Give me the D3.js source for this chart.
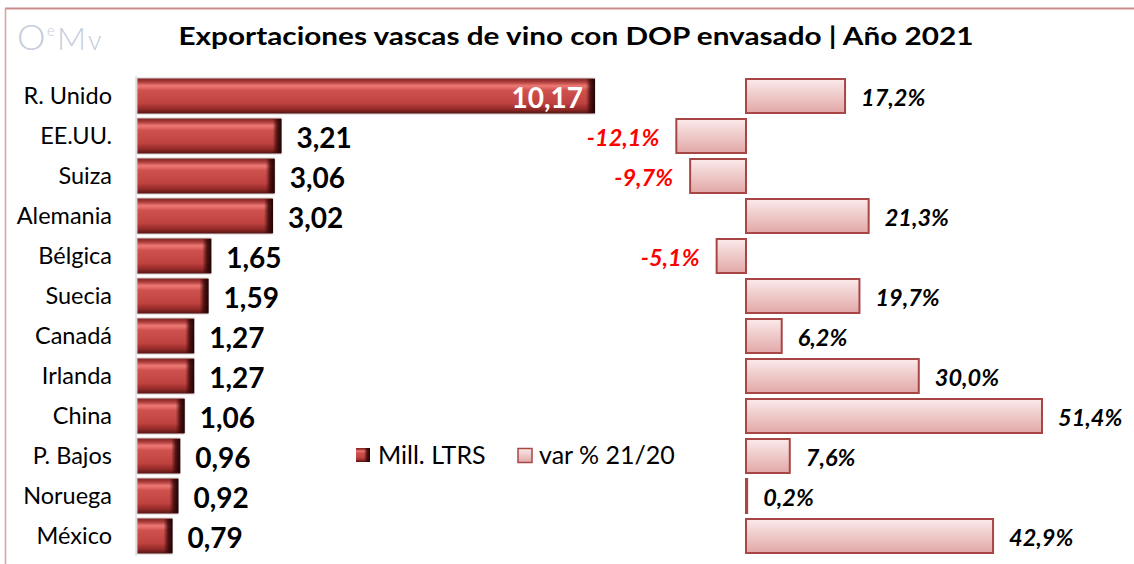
<!DOCTYPE html>
<html>
<head>
<meta charset="utf-8">
<script src="https://cdn.jsdelivr.net/npm/d3@7"></script>
<style>
  body { margin: 0; background: #fff; }
  svg { display: block; font-family: Lato, "Open Sans", sans-serif; }
</style>
</head>
<body>
<svg id="chart"></svg>
<script>
// data
const paises = ["R. Unido", "EE.UU.", "Suiza", "Alemania", "Bélgica", "Suecia",
                "Canadá", "Irlanda", "China", "P. Bajos", "Noruega", "México"];
const millLitros = [10.17, 3.21, 3.06, 3.02, 1.65, 1.59, 1.27, 1.27, 1.06, 0.96, 0.92, 0.79];
const variacion = [17.2, -12.1, -9.7, 21.3, -5.1, 19.7, 6.2, 30.0, 51.4, 7.6, 0.2, 42.9];
const serieNombres = ["Mill. LTRS", "var % 21/20"];
const titulo = "Exportaciones vascas de vino con DOP envasado | Año 2021";

const width = 1134, height = 564;
const fmt = (v, d) => v.toFixed(d).replace(".", ",");

const svg = d3.select("#chart").attr("width", width).attr("height", height);

// gradients
const defs = svg.append("defs");
const gBar = defs.append("linearGradient").attr("id", "gBar")
    .attr("x1", 0).attr("y1", 0).attr("x2", 0).attr("y2", 1);
[[0, "#7a2222"], [0.1, "#a83a38"], [0.22, "#ef7a76"], [0.34, "#d0524f"],
 [0.7, "#bf4240"], [0.88, "#8e2826"], [1, "#4a1010"]].forEach(([o, c]) =>
    gBar.append("stop").attr("offset", o).attr("stop-color", c));
const gEdge = defs.append("linearGradient").attr("id", "gEdge")
    .attr("x1", 0).attr("y1", 0).attr("x2", 1).attr("y2", 0);
gEdge.append("stop").attr("offset", 0).attr("stop-color", "#3a0808").attr("stop-opacity", 0);
gEdge.append("stop").attr("offset", 0.5).attr("stop-color", "#3a0808").attr("stop-opacity", 0.85);
gEdge.append("stop").attr("offset", 1).attr("stop-color", "#1e0303").attr("stop-opacity", 1);
const gPink = defs.append("linearGradient").attr("id", "gPink")
    .attr("x1", 0).attr("y1", 0).attr("x2", 0).attr("y2", 1);
gPink.append("stop").attr("offset", 0).attr("stop-color", "#fbeaea");
gPink.append("stop").attr("offset", 1).attr("stop-color", "#e2a7a7");

// frame
svg.append("line").attr("x1", 5).attr("x2", width).attr("y1", 8.5).attr("y2", 8.5)
    .attr("stroke", "#c98a8a").attr("stroke-width", 2);
svg.append("line").attr("x1", 5.5).attr("x2", 5.5).attr("y1", 8).attr("y2", height)
    .attr("stroke", "#d9a0a0").attr("stroke-width", 1.5);

// logo (light grey-blue "OeMv")
const logo = svg.append("g").attr("fill", "#c5ccda").attr("font-weight", 300);
logo.append("text").attr("x", 17).attr("y", 50).attr("font-size", 36).text("O");
logo.append("text").attr("x", 47).attr("y", 36).attr("font-size", 15).text("e");
logo.append("text").attr("x", 57).attr("y", 50).attr("font-size", 32).text("M");
logo.append("text").attr("x", 88).attr("y", 50).attr("font-size", 27).text("v");

// title
svg.append("text").attr("x", 576).attr("y", 45).attr("text-anchor", "middle")
    .attr("font-size", 24).attr("font-weight", "bold").attr("fill", "#000")
    .attr("textLength", 795).attr("lengthAdjust", "spacingAndGlyphs")
    .text(titulo);

// scales
const y = d3.scaleBand().domain(paises).range([76, 556]).paddingInner(0.1).paddingOuter(0.05);
const xL = d3.scaleLinear().domain([0, 10.17]).range([137, 595]);
const xR = d3.scaleLinear().domain([0, 51.4]).range([746, 1042]);

// category axis
const yAxis = svg.append("g").attr("transform", `translate(${xL(0) - 1},0)`)
    .call(d3.axisLeft(y).tickSize(0).tickPadding(24));
yAxis.select(".domain").attr("stroke", "#cfcfcf").attr("d", `M0,${y.range()[0]}V${y.range()[1]}`);
yAxis.selectAll("text").attr("font-size", 23.5).attr("fill", "#000")
    .attr("font-family", "Lato, sans-serif");

// left bars
const lb = svg.append("g").selectAll("g").data(paises).join("g");
lb.append("rect")
    .attr("x", xL(0)).attr("y", d => y(d))
    .attr("width", (d, i) => xL(millLitros[i]) - xL(0))
    .attr("height", y.bandwidth())
    .attr("fill", "url(#gBar)").attr("stroke", "#d8d0d0").attr("stroke-width", 1);
lb.append("rect")
    .attr("x", (d, i) => xL(millLitros[i]) - 9).attr("y", d => y(d) + 1)
    .attr("width", 9).attr("height", y.bandwidth() - 2)
    .attr("fill", "url(#gEdge)");

const maxV = d3.max(millLitros);
lb.append("text")
    .attr("x", (d, i) => millLitros[i] === maxV ? xL(millLitros[i]) - 12 : xL(millLitros[i]) + 15)
    .attr("y", d => y(d) + y.bandwidth() / 2 + 2)
    .attr("dy", "0.36em")
    .attr("text-anchor", (d, i) => millLitros[i] === maxV ? "end" : "start")
    .attr("font-size", 28)
    .attr("font-weight", "bold")
    .attr("fill", (d, i) => millLitros[i] === maxV ? "#fff" : "#000")
    .text((d, i) => fmt(millLitros[i], 2));

// right bars
const rb = svg.append("g").selectAll("g").data(paises).join("g");
rb.append("rect")
    .attr("x", (d, i) => Math.min(xR(0), xR(variacion[i])))
    .attr("y", d => y(d) + 1)
    .attr("width", (d, i) => Math.abs(xR(variacion[i]) - xR(0)))
    .attr("height", y.bandwidth() - 2)
    .attr("fill", "url(#gPink)").attr("stroke", "#a84646").attr("stroke-width", 2);
rb.append("text")
    .attr("x", (d, i) => variacion[i] < 0 ? xR(variacion[i]) - 17 : xR(variacion[i]) + 16)
    .attr("y", d => y(d) + y.bandwidth() / 2 + 2)
    .attr("dy", "0.36em")
    .attr("text-anchor", (d, i) => variacion[i] < 0 ? "end" : "start")
    .attr("font-size", 23.5).attr("font-weight", "bold").attr("font-style", "italic")
    .attr("fill", (d, i) => variacion[i] < 0 ? "#ff0000" : "#000")
    .text((d, i) => fmt(variacion[i], 1) + "%");

// legend
const lg = svg.append("g").attr("transform", "translate(356,448)");
lg.append("rect").attr("width", 14).attr("height", 14).attr("fill", "url(#gBar)");
lg.append("rect").attr("x", 8).attr("width", 6).attr("height", 14).attr("fill", "url(#gEdge)");
lg.append("text").attr("x", 22).attr("y", 7).attr("dy", "0.36em")
    .attr("font-size", 25).attr("fill", "#000").text(serieNombres[0]);
lg.append("rect").attr("x", 162).attr("y", 0.5).attr("width", 14).attr("height", 14)
    .attr("fill", "url(#gPink)").attr("stroke", "#a84646").attr("stroke-width", 1.5);
lg.append("text").attr("x", 183).attr("y", 7).attr("dy", "0.36em")
    .attr("font-size", 25).attr("fill", "#000").text(serieNombres[1]);
</script>
</body>
</html>
